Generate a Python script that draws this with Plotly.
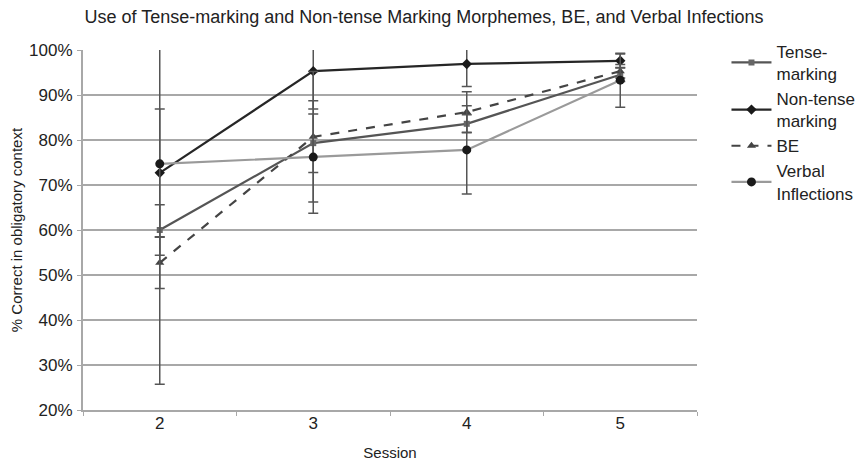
import plotly.graph_objects as go

sessions = ["2", "3", "4", "5"]
tense = [60.0, 79.3, 83.6, 94.5]
tense_err = [5.6, 6.5, 2.0, 1.5]
nontense = [72.7, 95.3, 96.9, 97.6]
nontense_err = [14.2, 8.4, 5.0, 1.5]
be = [52.7, 80.7, 86.2, 95.3]
be_err = [5.7, 14.5, 4.5, 1.5]
verbal = [74.7, 76.2, 77.8, 93.3]
verbal_err = [49.0, 12.5, 9.8, 6.0]
y_ticks = [20, 30, 40, 50, 60, 70, 80, 90, 100]
y_labels = [f"{v}%" for v in y_ticks]

FONT = "Liberation Sans, Arial, sans-serif"
W, H = 856, 455  # page body has an 8px margin
fig = go.Figure()

def add(name, y, err, lc, mc, symbol, dash, msize):
    fig.add_trace(go.Scatter(
        x=sessions, y=y, name=name, mode="lines+markers",
        line=dict(color=lc, width=2.2, dash=dash),
        marker=dict(color=mc, symbol=symbol, size=msize),
        error_y=dict(type="data", array=err, visible=True,
                     color="#555555", thickness=1.5, width=5),
    ))

add("Tense-<br>marking", tense, tense_err, "#555555", "#666666", "square", "solid", 6)
add("Non-tense<br>marking", nontense, nontense_err, "#262626", "#1a1a1a", "diamond", "solid", 8)
add("BE", be, be_err, "#444444", "#444444", "triangle-up", "dash", 8)
add("Verbal<br>Inflections", verbal, verbal_err, "#9a9a9a", "#1a1a1a", "circle", "solid", 9)

fig.update_layout(
    width=W, height=H,
    margin=dict(l=75, r=167, t=42, b=53, autoexpand=False),
    paper_bgcolor="white", plot_bgcolor="white",
    font=dict(family=FONT, size=17, color="#222222"),
    title=dict(text="Use of Tense-marking and Non-tense Marking Morphemes, BE, and Verbal Infections",
               x=416 / W, xanchor="center", y=1 - 9 / H, yanchor="middle",
               font=dict(size=18, family=FONT, color="#222222")),
    legend=dict(x=1.048, xanchor="left", y=1.045, yanchor="top",
                font=dict(size=17, family=FONT, color="#222222"),
                tracegroupgap=5, itemwidth=40),
    xaxis=dict(type="category", range=[-0.5, 3.5], showgrid=False, automargin=False,
               showline=True, linecolor="#a8a8a8", linewidth=2,
               ticks="outside", tickson="boundaries", ticklen=4, tickcolor="#a8a8a8",
               tickfont=dict(size=17), ticklabelstandoff=-3,
               title=dict(text="Session", font=dict(size=15), standoff=15)),
    yaxis=dict(range=[20, 100], tickvals=y_ticks, ticktext=y_labels, automargin=False,
               showgrid=True, gridcolor="#a8a8a8", gridwidth=2,
               showline=True, linecolor="#a8a8a8", linewidth=2,
               ticks="outside", ticklen=4, tickcolor="#a8a8a8", ticklabelstandoff=1,
               zeroline=False, tickfont=dict(size=17),
               title=dict(text="% Correct in obligatory context", font=dict(size=15), standoff=10)),
)

fig.write_html("out.html")
